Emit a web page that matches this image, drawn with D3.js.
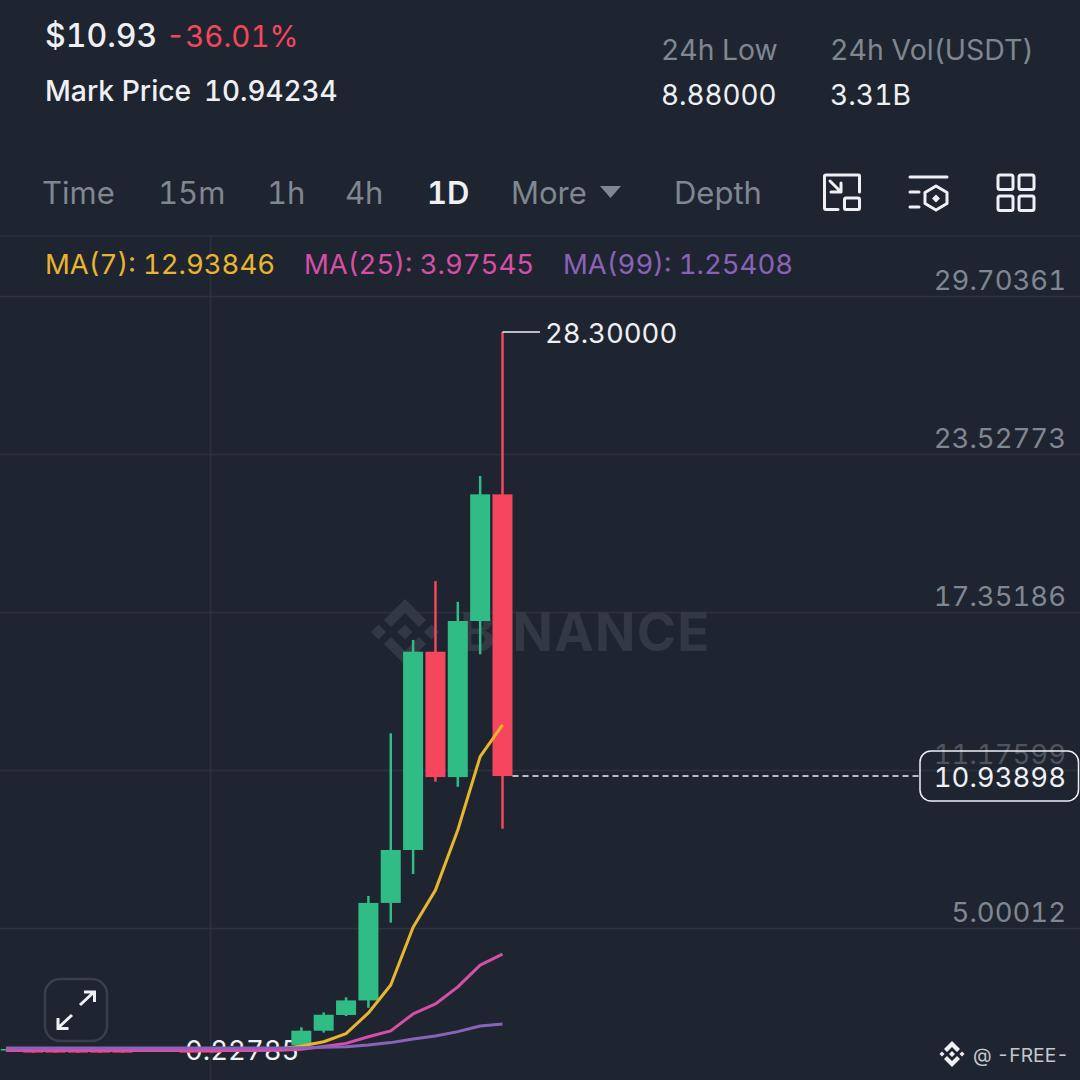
<!DOCTYPE html>
<html><head><meta charset="utf-8">
<script src="https://cdn.jsdelivr.net/npm/d3@7"></script>
<style>html,body{margin:0;padding:0;background:#1f2530}svg{display:block}text{font-family:Inter,"Noto Sans",sans-serif;font-variant-numeric:tabular-nums}</style>
</head><body><div id="chart"></div>
<script>
const opens  = [0.24,0.25,0.28,0.28,0.28,0.28,0.28,0.25,0.25,0.28,0.28,0.25,0.25,0.25,0.43,0.985,1.60,2.17,5.98,8.05,15.80,10.90,17.00,21.95];
const closes = [0.25,0.27,0.13,0.13,0.13,0.13,0.13,0.27,0.27,0.13,0.13,0.27,0.27,0.27,0.985,1.61,2.17,5.98,8.05,15.80,10.90,17.00,21.95,10.94];
const highs  = [0.27,0.29,0.29,0.29,0.29,0.29,0.29,0.29,0.29,0.29,0.29,0.29,0.29,0.30,1.12,1.70,2.29,6.25,12.61,16.26,18.56,17.75,22.67,28.30];
const lows   = [0.23,0.24,0.12,0.12,0.12,0.12,0.12,0.24,0.24,0.12,0.12,0.24,0.24,0.23,0.40,0.91,1.56,1.88,5.21,7.11,10.72,10.52,15.70,8.88];
const ma7    = [0.27,0.27,0.27,0.27,0.27,0.27,0.27,0.27,0.27,0.27,0.27,0.27,0.27,0.27,0.39,0.555,0.87,1.68,2.77,5.03,6.48,8.83,11.70,12.94];
const ma25   = [0.21,0.21,0.21,0.21,0.21,0.21,0.21,0.21,0.21,0.21,0.21,0.21,0.21,0.22,0.26,0.37,0.49,0.75,0.98,1.64,2.03,2.70,3.55,3.98];
const ma99   = [0.31,0.31,0.31,0.31,0.31,0.31,0.31,0.31,0.31,0.31,0.31,0.31,0.31,0.31,0.32,0.34,0.36,0.43,0.52,0.66,0.78,0.95,1.17,1.25];
const tickValues = [29.70361,23.52773,17.35186,11.17599,5.00012];
const tickLabels = ["29.70361","23.52773","17.35186","11.17599","5.00012"];
const tabs = ["Time","15m","1h","4h","1D","More","Depth"];
const highValue = 28.30, lowValue = 0.22785, lastValue = 10.93898;

const BG="#1f2530", GRID="#2c323c", GREEN="#2fbd85", RED="#f6465d", YEL="#e8b52f", PINK="#d64fa6", PUR="#8a63b8", WHITE="#eef0f3", GRAY="#7f8791";
const svg=d3.select("#chart").append("svg").attr("width",1080).attr("height",1080);
svg.append("rect").attr("width",1080).attr("height",1080).attr("fill",BG);

const y=d3.scaleLinear().domain([5.00012,29.70361]).range([928,296]);
const x=d3.scaleLinear().domain([0,23]).range([-11.55,502.5]);

// header
const T=(s,px,py,size,fill,anchor,weight)=>svg.append("text").attr("x",px).attr("y",py).attr("font-size",size).attr("fill",fill).attr("text-anchor",anchor||"start").attr("font-weight",weight||400).text(s);
T("$10.93",45,47,32,WHITE,"start",500);
T("-36.01%",166,47,29.500,RED);
T("Mark Price",45,101,28.300,WHITE,"start",500);
T("10.94234",204,101,27.800,WHITE,"start",500);
T("24h Low",661,60,28.300,GRAY);
T("8.88000",661,105,27.800,WHITE);
T("24h Vol(USDT)",830,60,28.500,GRAY);
T("3.31B",830,105,28.200,WHITE);
const tabX=[42,158,267,345,427,511,674];
tabs.forEach((t,i)=>T(t,tabX[i],204,31,i==4?WHITE:GRAY,"start",i==4?600:400));
svg.append("path").attr("d","M600 186H621L610.5 198Z").attr("fill",GRAY);

// toolbar icons
const ic=svg.append("g").attr("fill","none").attr("stroke",WHITE).attr("stroke-width",3).attr("stroke-linecap","round").attr("stroke-linejoin","round");
ic.append("path").attr("d","M838 209.500H826Q824.500 209.500 824.500 208V176Q824.500 175 826 175H858.500Q859.500 175 859.500 176V192");
ic.append("rect").attr("x",844.500).attr("y",198).attr("width",15).attr("height",11.500).attr("rx",1.500);
ic.append("path").attr("d","M830 181L841 192M831 192H841V183");
ic.append("path").attr("d","M910 177H947M910 192H919M910 207H919");
ic.append("path").attr("d","M936 186L947 192.500V203.500L936 210L925 203.500V192.500Z");
svg.append("path").attr("d","M936 194.500L940 198.500L936 202.500L932 198.500Z").attr("fill",WHITE);
[[998,175],[1019,175],[998,196],[1019,196]].forEach(p=>ic.append("rect").attr("x",p[0]).attr("y",p[1]).attr("width",15).attr("height",14.500).attr("rx",2));

// separator & grid
svg.append("line").attr("x1",0).attr("x2",1080).attr("y1",236).attr("y2",236).attr("stroke",GRID).attr("stroke-width",1.5);
svg.append("line").attr("x1",210.500).attr("x2",210.500).attr("y1",236).attr("y2",1080).attr("stroke",GRID).attr("stroke-width",1.5);
const axis=d3.axisRight(y).tickValues(tickValues).tickFormat((d,i)=>tickLabels[i]).tickSize(1080);
const ag=svg.append("g").call(axis);
ag.select(".domain").remove();
ag.selectAll("line").attr("stroke",GRID).attr("stroke-width",1.5);
ag.selectAll("text").attr("x",1066).attr("dy",0).attr("y",-7).attr("text-anchor","end").attr("font-size",27.500).attr("fill",(d,i)=>tickLabels[i]==="11.17599"?"#4e545e":GRAY);

// MA legend
let lg=[["MA(7): 12.93846",45,YEL],["MA(25): 3.97545",304,PINK],["MA(99): 1.25408",563,PUR]];
lg.forEach(l=>T(l[0],l[1],274,27.500,l[2]));

// watermark
const wm=svg.append("g").attr("fill","#323944").attr("transform","translate(405,632)");
["M0 -33L21 -12L14 -5L0 -19L-14 -5L-21 -12Z","M0 33L21 12L14 5L0 19L-14 5L-21 12Z","M0 -7.500L7.500 0L0 7.500L-7.500 0Z","M-26.500 -7.500L-19 0L-26.500 7.500L-34 0Z","M26.500 -7.500L34 0L26.500 7.500L19 0Z"].forEach(d=>wm.append("path").attr("d",d));
svg.append("text").attr("x",460).attr("y",651).attr("font-size",53).attr("font-weight",700).attr("letter-spacing",1.300).attr("fill","#323944").text("BINANCE");

// low label under the marks
T("0.22785",185,1060,27.500,WHITE);

// candles
const idx=d3.range(opens.length);
const cw=20;
const cg=svg.append("g");
cg.selectAll("line").data(idx).join("line")
  .attr("x1",i=>x(i)).attr("x2",i=>x(i)).attr("y1",i=>y(highs[i])).attr("y2",i=>y(lows[i]))
  .attr("stroke",i=>closes[i]>=opens[i]?GREEN:RED).attr("stroke-width",2.500);
cg.selectAll("rect").data(idx).join("rect")
  .attr("x",i=>x(i)-cw/2).attr("width",cw)
  .attr("y",i=>y(Math.max(opens[i],closes[i]))).attr("height",i=>Math.max(1.5,Math.abs(y(opens[i])-y(closes[i]))))
  .attr("fill",i=>closes[i]>=opens[i]?GREEN:RED);

// MA lines
svg.append("clipPath").attr("id","mac").append("rect").attr("x",6).attr("y",0).attr("width",1074).attr("height",1080);
const line=d3.line().x((d,i)=>x(i)).y(d=>y(d));
const mg=svg.append("g").attr("clip-path","url(#mac)").attr("fill","none").attr("stroke-width",3).attr("stroke-linejoin","round");
[[ma7,YEL],[ma25,PINK],[ma99,PUR]].forEach(s=>mg.append("path").attr("d",line(s[0])).attr("stroke",s[1]));

// high label
svg.append("path").attr("d",`M${x(23)} ${y(highValue)}H540`).attr("fill","none").attr("stroke",WHITE).attr("stroke-width",1.500);
T("28.30000",545,y(highValue)+11,27.500,WHITE);

// last price
svg.append("line").attr("x1",x(23)+10).attr("x2",920).attr("y1",y(lastValue)).attr("y2",y(lastValue)).attr("stroke",WHITE).attr("stroke-width",1.500).attr("stroke-dasharray","6 4");
svg.append("rect").attr("x",920).attr("y",751).attr("width",158.500).attr("height",50).attr("rx",11).attr("fill","none").attr("stroke",WHITE).attr("stroke-width",1.500);
T("10.93898",1066,787,27.500,WHITE,"end");

// fullscreen button
svg.append("rect").attr("x",45).attr("y",979).attr("width",62).attr("height",62).attr("rx",15).attr("fill","none").attr("stroke","#3a404a").attr("stroke-width",2.500);
const fs=svg.append("g").attr("fill","none").attr("stroke",WHITE).attr("stroke-width",3);
fs.append("path").attr("d","M80 1005L94 992M84 992H94.500V1002");
fs.append("path").attr("d","M72 1015L58 1028M58 1018V1028.500H68.500");

// signature
svg.append("g").attr("fill",WHITE).attr("transform","translate(952,1054)").selectAll("path")
 .data(["M0 -13L8 -5L5 -2L0 -7L-5 -2L-8 -5Z","M0 13L8 5L5 2L0 7L-5 2L-8 5Z","M0 -3L3 0L0 3L-3 0Z","M-10 -2.500L-7.500 0L-10 2.500L-12.500 0Z","M10 -2.500L12.500 0L10 2.500L7.500 0Z"])
 .join("path").attr("d",d=>d);
T("@ -FREE-",973,1062,19.300,"#c4c8ce");
</script></body></html>
